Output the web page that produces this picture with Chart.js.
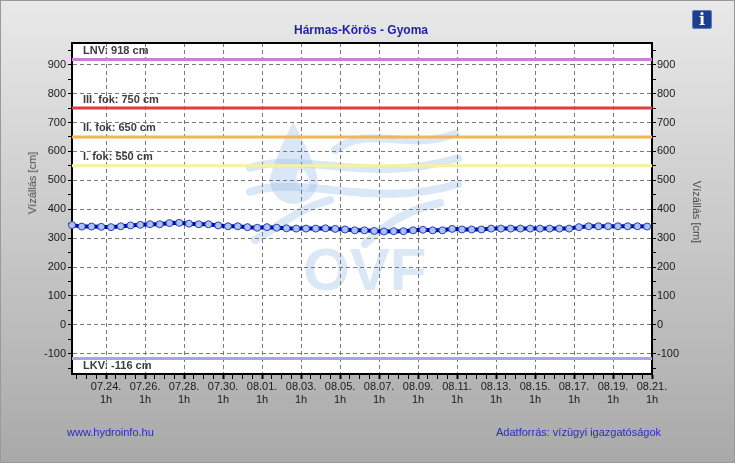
<!DOCTYPE html>
<html>
<head>
<meta charset="utf-8">
<title>Hármas-Körös - Gyoma</title>
<script src="https://cdn.jsdelivr.net/npm/chart.js@4.4.1/dist/chart.umd.min.js"></script>
<style>
  body { margin: 0; }
  #wrap { position: relative; width: 735px; height: 463px; overflow: hidden; font-family: Arial, "Liberation Sans", sans-serif; }
  #wrap canvas { position: absolute; left: 0; top: 0; }
  #frame { position: absolute; left: 0; top: 0; width: 735px; height: 463px; box-sizing: border-box; border: 1px solid #9a9a9a; pointer-events: none; }
  .txt { position: absolute; white-space: nowrap; }
  #title { left: 361px; top: 30px; transform: translate(-50%, -50%); font-weight: bold; font-size: 12px; color: #1f1fb0; }
  .ytitle { font-size: 11px; color: #4a4a4a; }
  #ytl { left: 32px; top: 183px; transform: translate(-50%, -50%) rotate(-90deg); }
  #ytr { left: 697px; top: 212px; transform: translate(-50%, -50%) rotate(90deg); }
  .foot { font-size: 11px; color: #2a2ac8; top: 426px; }
  #info { position: absolute; left: 692px; top: 10px; width: 20px; height: 19px; border-radius: 3px;
          background: #1b3f90; color: #fff; font: bold 16px "DejaVu Serif", "Liberation Serif", serif;
          text-align: center; line-height: 19px; box-shadow: inset 0 0 0 1px #5a7cc0; }
</style>
</head>
<body>
<div id="wrap">
  <canvas id="levelChart" width="735" height="463"></canvas>
  <div id="title" class="txt">Hármas-Körös - Gyoma</div>
  <div id="ytl" class="txt ytitle">Vízállás [cm]</div>
  <div id="ytr" class="txt ytitle">Vízállás [cm]</div>
  <div class="txt foot" style="left:67px">www.hydroinfo.hu</div>
  <div class="txt foot" style="left:496px">Adatforrás: vízügyi igazgatóságok</div>
  <div id="info">i</div>
  <div id="frame"></div>
</div>
<script>
// time axis in hours counted from 07.22. 0h
const startHour = 7;     // first reading: 07.22. 7h
const stepHours = 12;    // two readings a day
const endHour = 721;     // 08.21. 1h
const firstLabelHour = 49; // 07.24. 1h

const dayLabels = ['07.24.', '07.26.', '07.28.', '07.30.', '08.01.', '08.03.', '08.05.', '08.07.',
                   '08.09.', '08.11.', '08.13.', '08.15.', '08.17.', '08.19.', '08.21.'];
const hourLabel = '1h';

// water level [cm]
const levelValues = [
  345, 340, 340, 339, 338, 341, 344, 346, 348, 348, 352, 353, 350, 348, 348, 344, 341, 341, 338, 336,
  338, 336, 334, 333, 333, 333, 334, 332, 330, 327, 327, 325, 323, 324, 324, 327, 329, 327, 327, 332,
  330, 330, 330, 333, 333, 333, 333, 333, 333, 333, 333, 333, 338, 341, 341, 341, 341, 341, 341, 340
];

const limitNames = ['LNV', 'III. fok', 'II. fok', 'I. fok', 'LKV'];
const limitValues = [918, 750, 650, 550, -116];
const limitColors = ['#c97fd4', '#e43c3c', '#f2b650', '#f6f0a0', '#a6a6e4'];

const yMin = -170, yMax = 975;
const yTickValues = [-150, -100, -50, 0, 50, 100, 150, 200, 250, 300, 350, 400, 450,
                     500, 550, 600, 650, 700, 750, 800, 850, 900, 950];

const xTickHours = [];
for (let h = startHour + 6; h <= endHour; h += stepHours) xTickHours.push(h);
const isMajor = h => h >= firstLabelHour && (h - firstLabelHour) % 48 === 0;

Chart.defaults.font.family = 'Arial, "Liberation Sans", sans-serif';
Chart.defaults.font.size = 11;
Chart.defaults.color = '#1a1a1a';

const background = {
  id: 'background',
  beforeDraw(chart) {
    const { ctx, chartArea: a, width, height } = chart;
    ctx.save();
    const g = ctx.createLinearGradient(0, 0, 0, height);
    g.addColorStop(0, '#e9e9e9');
    g.addColorStop(1, '#a9a9a9');
    ctx.fillStyle = g;
    ctx.fillRect(0, 0, width, height);
    ctx.fillStyle = '#fff';
    ctx.fillRect(a.left, a.top, a.right - a.left, a.bottom - a.top);

    // OVF watermark
    const wm = 'rgba(160,195,235,0.4)';
    ctx.fillStyle = wm;
    ctx.strokeStyle = wm;
    ctx.beginPath();
    ctx.moveTo(293, 122);
    ctx.quadraticCurveTo(274, 160, 270, 178);
    ctx.arc(294, 180, 24, Math.PI, 0, true);
    ctx.quadraticCurveTo(314, 160, 293, 122);
    ctx.fill();
    ctx.fillStyle = 'rgba(255,255,255,0.8)';
    ctx.beginPath();
    ctx.ellipse(303, 180, 6, 11, -0.3, 0, Math.PI * 2);
    ctx.fill();
    ctx.lineCap = 'round';
    ctx.lineWidth = 8;
    const waves = [
      [335, 150, 370, 124, 405, 152, 455, 134],
      [250, 168, 305, 150, 365, 186, 458, 158],
      [250, 192, 305, 174, 372, 210, 458, 184],
      [255, 240, 285, 222, 300, 208, 330, 200],
      [365, 244, 385, 225, 405, 210, 440, 203]
    ];
    waves.forEach(w => {
      ctx.beginPath();
      ctx.moveTo(w[0], w[1]);
      ctx.bezierCurveTo(w[2], w[3], w[4], w[5], w[6], w[7]);
      ctx.stroke();
    });
    ctx.fillStyle = wm;
    ctx.font = 'bold 60px Arial, "Liberation Sans", sans-serif';
    ctx.textBaseline = 'alphabetic';
    ctx.fillText('OVF', 303, 290);
    ctx.restore();
  },
  beforeDatasetsDraw(chart) {
    const { ctx, chartArea: a } = chart;
    ctx.save();
    ctx.strokeStyle = '#000';
    ctx.lineWidth = 2;
    ctx.strokeRect(a.left, a.top, a.right - a.left, a.bottom - a.top);
    ctx.restore();
  }
};

const limitLabels = {
  id: 'limitLabels',
  afterDatasetsDraw(chart) {
    const { ctx, chartArea, scales } = chart;
    ctx.save();
    ctx.font = 'bold 11px Arial, "Liberation Sans", sans-serif';
    ctx.fillStyle = '#3c3c3c';
    limitValues.forEach((v, i) => {
      const py = scales.y.getPixelForValue(v);
      const below = v < 0;
      ctx.textBaseline = below ? 'top' : 'bottom';
      ctx.fillText(limitNames[i] + ': ' + v + ' cm', chartArea.left + 11, below ? py + 2 : py - 3);
    });
    ctx.restore();
  }
};

const levelData = levelValues.map((v, i) => ({ x: startHour + i * stepHours, y: v }));

const limitSets = limitValues.map((v, i) => ({
  label: limitNames[i],
  data: [{ x: startHour, y: v }, { x: endHour, y: v }],
  borderColor: limitColors[i],
  borderWidth: 3,
  pointRadius: 0,
  clip: false
}));

const yLabel = v => (v % 100 === 0 ? String(v) : '');

new Chart(document.getElementById('levelChart').getContext('2d'), {
  type: 'line',
  data: {
    datasets: [{
      label: 'Vízállás',
      data: levelData,
      borderColor: '#0000c8',
      borderWidth: 4,
      pointRadius: 3.5,
      pointBackgroundColor: '#a9c5ef',
      pointBorderColor: '#2a40b8',
      pointBorderWidth: 1,
      tension: 0,
      clip: false
    }, ...limitSets]
  },
  options: {
    responsive: false,
    animation: false,
    layout: { padding: { top: 43, left: 0, right: 0, bottom: 0 } },
    plugins: { legend: { display: false }, tooltip: { enabled: false } },
    scales: {
      x: {
        type: 'linear',
        min: startHour,
        max: endHour,
        afterBuildTicks: s => { s.ticks = xTickHours.map(h => ({ value: h })); },
        afterFit: s => { s.height = 89; },
        ticks: {
          autoSkip: false, maxRotation: 0, minRotation: 0, padding: 1, color: '#1a1a1a',
          callback: v => isMajor(v) ? [dayLabels[(v - firstLabelHour) / 48], hourLabel] : ''
        },
        grid: {
          color: c => (c.tick && isMajor(c.tick.value) ? '#7a7a7a' : 'transparent'),
          tickColor: '#000',
          tickWidth: c => (c.tick && isMajor(c.tick.value) ? 2 : 1),
          tickLength: 5
        },
        border: { color: '#000', width: 2, dash: [4, 3] }
      },
      y: {
        position: 'left',
        min: yMin,
        max: yMax,
        afterBuildTicks: s => { s.ticks = yTickValues.map(v => ({ value: v })); },
        afterFit: s => { s.width = 72; },
        ticks: { autoSkip: false, padding: 2, color: '#1a1a1a', callback: yLabel },
        grid: {
          color: c => (c.tick && c.tick.value % 100 === 0 ? '#7a7a7a' : 'transparent'),
          tickColor: '#000',
          tickLength: 4
        },
        border: { color: '#000', width: 2, dash: [4, 3] }
      },
      y2: {
        position: 'right',
        min: yMin,
        max: yMax,
        afterBuildTicks: s => { s.ticks = yTickValues.map(v => ({ value: v })); },
        afterFit: s => { s.width = 83; },
        ticks: { autoSkip: false, padding: 1, color: '#1a1a1a', callback: yLabel },
        grid: { drawOnChartArea: false, tickColor: '#000', tickLength: 4 },
        border: { color: '#000', width: 2 }
      }
    }
  },
  plugins: [background, limitLabels]
});
</script>
</body>
</html>
